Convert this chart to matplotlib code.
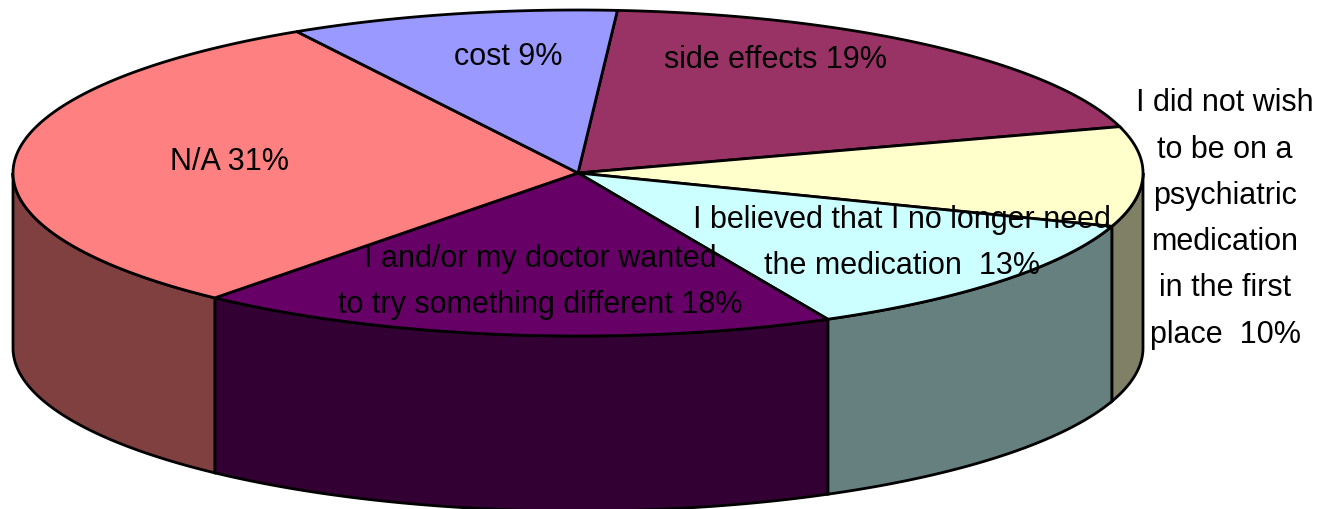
import numpy as np
import matplotlib
matplotlib.use('Agg')
import matplotlib.pyplot as plt
from matplotlib.patches import Polygon

plt.rcParams['font.family'] = ['Liberation Sans', 'DejaVu Sans']

# 数据
labels = ['side effects 19%',
          'I did not wish\nto be on a\npsychiatric\nmedication\nin the first\nplace  10%',
          'I believed that I no longer need\nthe medication  13%',
          'I and/or my doctor wanted\nto try something different 18%',
          'N/A 31%',
          'cost 9%']
# 从图上量出的扇区占比（标签里是四舍五入后的数字）
values = [19.3, 9.9, 12.4, 18.4, 30.6, 9.4]
top_colors = ['#993366', '#FFFFCC', '#CCFFFF', '#660066', '#FF8080', '#9999FF']
side_colors = ['#4D1933', '#808066', '#668080', '#330033', '#804040', '#4D4D80']
label_pos = [(776, 60), (1225, 219), (902, 243), (540, 282), (229, 162), (508, 57)]

# 椭圆几何（像素坐标）
cx, cy = 578, 173
rx, ry = 565, 163
depth = 175
start_angle = 86


def ellipse_pts(a1, a2, dy=0):
    t = np.radians(np.linspace(a1, a2, 200))
    return np.column_stack([cx + rx * np.cos(t), cy + dy - ry * np.sin(t)])


fig = plt.figure(figsize=(13.19, 5.09), dpi=100)
ax = fig.add_axes([0, 0, 1, 1])
ax.set_xlim(0, 1319)
ax.set_ylim(509, 0)
ax.axis('off')

# 顺时针累计角度
bounds = start_angle - np.cumsum([0] + values) * 3.6

# 侧面：只画前半圈
for i in range(len(values)):
    hi, lo = bounds[i], bounds[i + 1]
    for shift in [0, -360]:
        a1 = min(hi + shift, 0)
        a2 = max(lo + shift, -180)
        if a1 > a2:
            upper = ellipse_pts(a1, a2)
            lower = ellipse_pts(a2, a1, depth)
            ax.add_patch(Polygon(np.vstack([upper, lower]), closed=True,
                                 facecolor=side_colors[i], edgecolor='black', linewidth=2.0))

# 顶面
for i in range(len(values)):
    arc = ellipse_pts(bounds[i], bounds[i + 1])
    ax.add_patch(Polygon(np.vstack([[cx, cy], arc]), closed=True,
                         facecolor=top_colors[i], edgecolor='black', linewidth=2.0))

for lab, (x, y) in zip(labels, label_pos):
    ax.text(x, y, lab, ha='center', va='center', fontsize=22, color='black', linespacing=1.71)

fig.savefig('out.png', dpi=100)
